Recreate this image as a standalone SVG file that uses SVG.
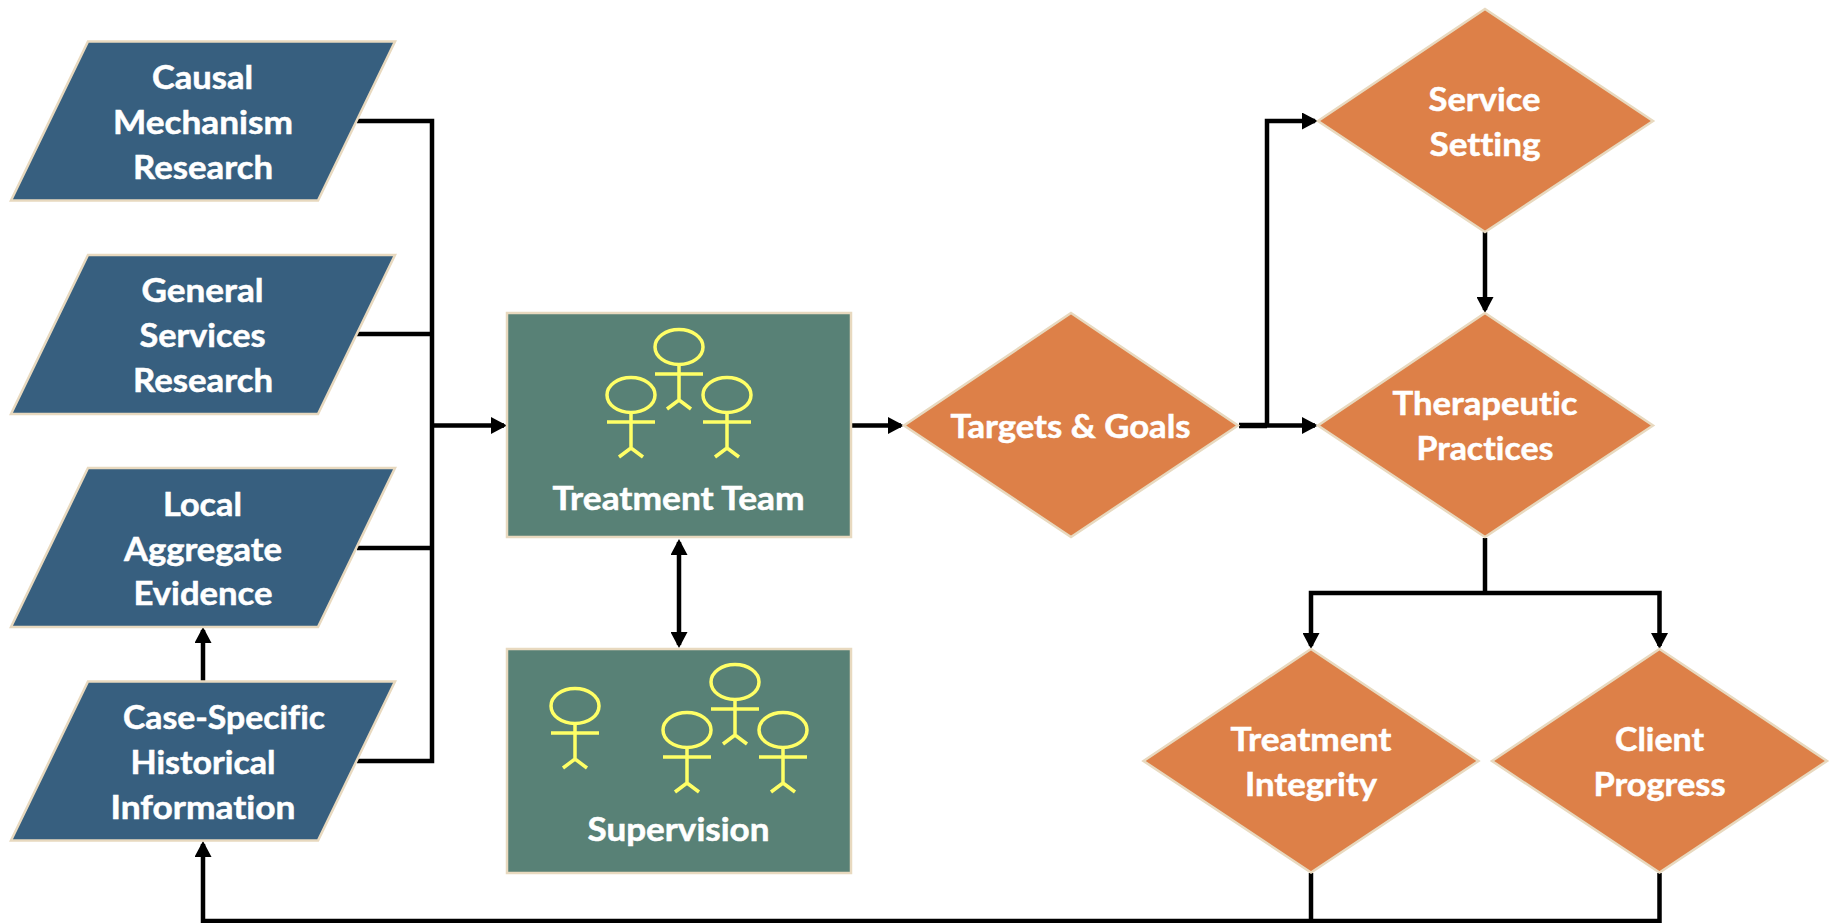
<svg xmlns="http://www.w3.org/2000/svg" width="1835" height="923" viewBox="0 0 1835 923">
<style>
.para{fill:#375f7f;stroke:#e8d9bf;stroke-width:2.5}
.box{fill:#588176;stroke:#e8d9bf;stroke-width:2.5}
.dia{fill:#dd8048;stroke:#e8d9bf;stroke-width:2.5}
.t{font-family:"Lato","Liberation Sans",sans-serif;font-weight:700;font-size:32px;fill:#fff;stroke:#fff;stroke-width:.5;text-anchor:middle;font-variant-ligatures:none}
.c{fill:none;stroke:#000;stroke-width:4.5}
.a{marker-end:url(#h)}
.fig{fill:none;stroke:#ffff66;stroke-width:3.5}
</style>
<defs>
<marker id="h" markerUnits="userSpaceOnUse" viewBox="0 0 16 17" markerWidth="16" markerHeight="17" refX="13" refY="8.500" orient="auto-start-reverse"><path d="M0 0L16 8.500L0 17Z" fill="#000"/></marker>
<g id="person" class="fig"><ellipse cx="0" cy="0" rx="24" ry="17.500"/><path d="M0 18V53M-24 27H24M-12 62L0 53L12 62"/></g>
</defs>
<rect width="1835" height="923" fill="#fff"/>
<g id="connectors">
<path class="c" d="M357 121H432V761H357M357 334H432M357 548H432"/>
<path class="c a" d="M432 425.500H504"/>
<path class="c a" d="M679 542V645" style="marker-start:url(#h)"/>
<path class="c a" d="M852 425.500H901"/>
<path class="c" d="M1239 425.500H1267" style="stroke-width:5.500"/>
<path class="c a" d="M1267 425.500H1315"/>
<path class="c a" d="M1267 425.500V121H1315"/>
<path class="c a" d="M1485 232V310"/>
<path class="c" d="M1485 538V593"/>
<path class="c a" d="M1485 593H1311V646"/>
<path class="c a" d="M1485 593H1659.500V646"/>
<path class="c" d="M1311 873V921"/>
<path class="c a" d="M1659.500 873V921H203V844"/>
<path class="c a" d="M203 681V630"/>
</g>
<g id="causal"><polygon class="para" points="88,41.500 395,41.500 318,200.500 11,200.500"/>
<text class="t" x="202.500" y="89" textLength="101" lengthAdjust="spacingAndGlyphs">Causal</text>
<text class="t" x="203" y="134" textLength="180" lengthAdjust="spacingAndGlyphs">Mechanism</text>
<text class="t" x="203" y="178.500" textLength="140" lengthAdjust="spacingAndGlyphs">Research</text></g>
<g id="general"><polygon class="para" points="88,255 395,255 318,414 11,414"/>
<text class="t" x="202.500" y="302" textLength="122" lengthAdjust="spacingAndGlyphs">General</text>
<text class="t" x="202.500" y="347" textLength="126" lengthAdjust="spacingAndGlyphs">Services</text>
<text class="t" x="203" y="392" textLength="140" lengthAdjust="spacingAndGlyphs">Research</text></g>
<g id="local"><polygon class="para" points="88,468 395,468 318,627 11,627"/>
<text class="t" x="202.500" y="516" textLength="79" lengthAdjust="spacingAndGlyphs">Local</text>
<text class="t" x="203" y="561" textLength="158" lengthAdjust="spacingAndGlyphs">Aggregate</text>
<text class="t" x="203" y="605" textLength="139" lengthAdjust="spacingAndGlyphs">Evidence</text></g>
<g id="casespecific"><polygon class="para" points="88,681.500 395,681.500 318,840.500 11,840.500"/>
<text class="t" x="224" y="729" textLength="202" lengthAdjust="spacingAndGlyphs">Case-Specific</text>
<text class="t" x="203" y="774" textLength="145" lengthAdjust="spacingAndGlyphs">Historical</text>
<text class="t" x="203" y="819" textLength="185" lengthAdjust="spacingAndGlyphs">Information</text></g>
<g id="treatment-team"><rect class="box" x="507" y="313" width="344" height="224"/>
<use href="#person" x="679" y="347"/><use href="#person" x="631" y="395"/><use href="#person" x="727" y="395"/>
<text class="t" x="678.500" y="510" textLength="252" lengthAdjust="spacingAndGlyphs">Treatment Team</text></g>
<g id="supervision"><rect class="box" x="507" y="649" width="344" height="224"/>
<use href="#person" x="575" y="706"/><use href="#person" x="735" y="682"/><use href="#person" x="687" y="730"/><use href="#person" x="783" y="730"/>
<text class="t" x="678.500" y="841" textLength="182" lengthAdjust="spacingAndGlyphs">Supervision</text></g>
<g id="targets"><polygon class="dia" points="1071,313 1238,425.500 1071,537 904,425.500"/>
<text class="t" x="1070.500" y="438" textLength="240" lengthAdjust="spacingAndGlyphs">Targets &amp; Goals</text></g>
<g id="service"><polygon class="dia" points="1485,9 1653,121 1485,232 1318,121"/>
<text class="t" x="1484.500" y="111" textLength="112" lengthAdjust="spacingAndGlyphs">Service</text>
<text class="t" x="1485" y="156" textLength="111" lengthAdjust="spacingAndGlyphs">Setting</text></g>
<g id="therapeutic"><polygon class="dia" points="1485,313 1653,425.500 1485,537 1318,425.500"/>
<text class="t" x="1485" y="415" textLength="185" lengthAdjust="spacingAndGlyphs">Therapeutic</text>
<text class="t" x="1485" y="460" textLength="137" lengthAdjust="spacingAndGlyphs">Practices</text></g>
<g id="integrity"><polygon class="dia" points="1311,649 1478.500,761 1311,872.500 1143.500,761"/>
<text class="t" x="1311" y="751" textLength="161" lengthAdjust="spacingAndGlyphs">Treatment</text>
<text class="t" x="1311" y="796" textLength="132" lengthAdjust="spacingAndGlyphs">Integrity</text></g>
<g id="progress"><polygon class="dia" points="1659.500,649 1827,761 1659.500,872.500 1492,761"/>
<text class="t" x="1659.500" y="751" textLength="89" lengthAdjust="spacingAndGlyphs">Client</text>
<text class="t" x="1659.500" y="796" textLength="132" lengthAdjust="spacingAndGlyphs">Progress</text></g>
</svg>
